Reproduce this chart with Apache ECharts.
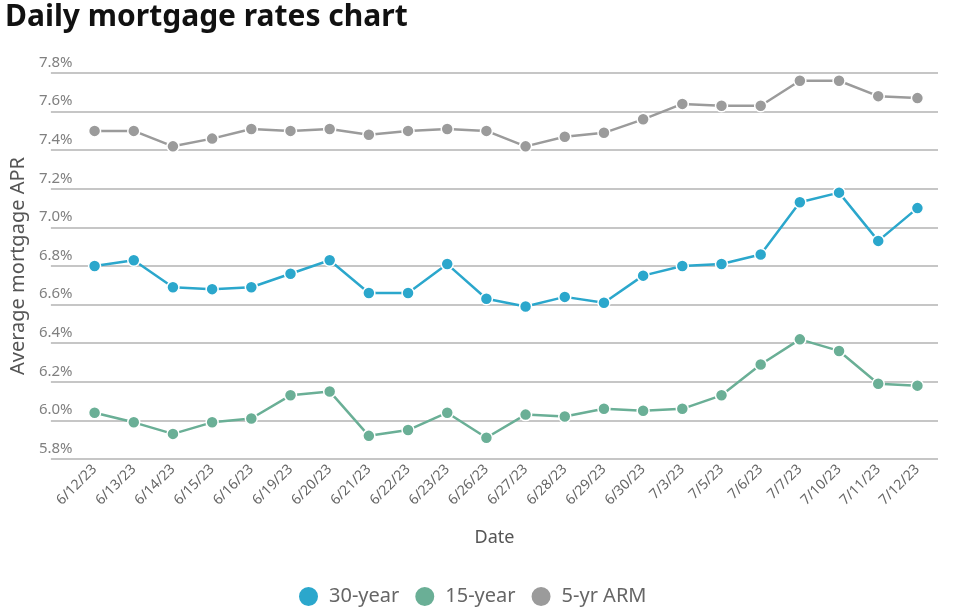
<!DOCTYPE html>
<html>
<head>
<meta charset="utf-8">
<script src="https://cdn.jsdelivr.net/npm/echarts@6/dist/echarts.min.js"></script>
<style>html,body{margin:0;padding:0;background:#fff;}#c{width:962px;height:611px;}</style>
</head>
<body>
<div id="c"></div>
<script>
const categories = ['6/12/23','6/13/23','6/14/23','6/15/23','6/16/23','6/19/23','6/20/23','6/21/23','6/22/23','6/23/23','6/26/23','6/27/23','6/28/23','6/29/23','6/30/23','7/3/23','7/5/23','7/6/23','7/7/23','7/10/23','7/11/23','7/12/23'];
const rate30 = [6.80,6.83,6.69,6.68,6.69,6.76,6.83,6.66,6.66,6.81,6.63,6.59,6.64,6.61,6.75,6.80,6.81,6.86,7.13,7.18,6.93,7.10];
const rate15 = [6.04,5.99,5.93,5.99,6.01,6.13,6.15,5.92,5.95,6.04,5.91,6.03,6.02,6.06,6.05,6.06,6.13,6.29,6.42,6.36,6.19,6.18];
const arm5 = [7.50,7.50,7.42,7.46,7.51,7.50,7.51,7.48,7.50,7.51,7.50,7.42,7.47,7.49,7.56,7.64,7.63,7.63,7.76,7.76,7.68,7.67];
const seriesNames = ['30-year','15-year','5-yr ARM'];
const colors = ['#2ba7cc','#6aaf96','#9b9b9b'];
const yMin = 5.8, yMax = 7.8, yStep = 0.2;

const font = 'Noto Sans';
const chart = echarts.init(document.getElementById('c'), null, {renderer:'canvas'});
function mkSeries(name, data, color){
  return {
    name, type:'line', data, xAxisIndex:0, yAxisIndex:0,
    symbol:'circle', symbolSize:12, color,
    lineStyle:{width:2.5,color},
    itemStyle:{color,borderColor:'#fff',borderWidth:1.5},
    z:3
  };
}
chart.setOption({
  animation:false,
  textStyle:{fontFamily:font},
  title:{text:'Daily mortgage rates chart',left:0,top:-3,textStyle:{fontSize:30,fontWeight:'bold',color:'#111',fontFamily:font}},
  legend:{
    data:seriesNames,bottom:-2,left:292,icon:'circle',itemWidth:21,itemHeight:21,itemGap:14,
    textStyle:{fontSize:20,color:'#666',fontFamily:font,padding:[0,0,0,5]}
  },
  grid:[
    {left:75,right:25,top:73,bottom:152},
    {left:33,right:24,top:73,bottom:152}
  ],
  xAxis:[
    {gridIndex:0,type:'category',data:categories,boundaryGap:true,
     axisLine:{show:false},axisTick:{show:false},
     axisLabel:{rotate:45,fontSize:14,color:'#666',margin:8,interval:0,fontFamily:font}},
    {gridIndex:1,type:'category',data:categories,
     axisLine:{show:false},axisTick:{show:false},axisLabel:{show:false},splitLine:{show:false},
     name:'Date',nameLocation:'middle',nameGap:70,nameTextStyle:{fontSize:18,color:'#555',fontFamily:font}}
  ],
  yAxis:[
    {gridIndex:0,type:'value',min:yMin,max:yMax,interval:yStep,
     axisLine:{show:false},axisTick:{show:false},axisLabel:{show:false},splitLine:{show:false}},
    {gridIndex:1,type:'value',min:yMin,max:yMax,interval:yStep,
     axisLine:{show:false},axisTick:{show:false},
     splitLine:{lineStyle:{color:'#b3b3b3',width:1.5}},
     axisLabel:{inside:true,verticalAlign:'bottom',margin:-12,padding:[0,0,3,0],fontSize:15,color:'#808080',fontFamily:font,
       formatter:v=>v.toFixed(1)+'%'},
     name:'Average mortgage APR',nameLocation:'middle',nameGap:16,nameRotate:90,
     nameTextStyle:{fontSize:20,color:'#555',fontFamily:font}}
  ],
  series:[
    mkSeries(seriesNames[0],rate30,colors[0]),
    mkSeries(seriesNames[1],rate15,colors[1]),
    mkSeries(seriesNames[2],arm5,colors[2])
  ]
});
</script>
</body>
</html>
